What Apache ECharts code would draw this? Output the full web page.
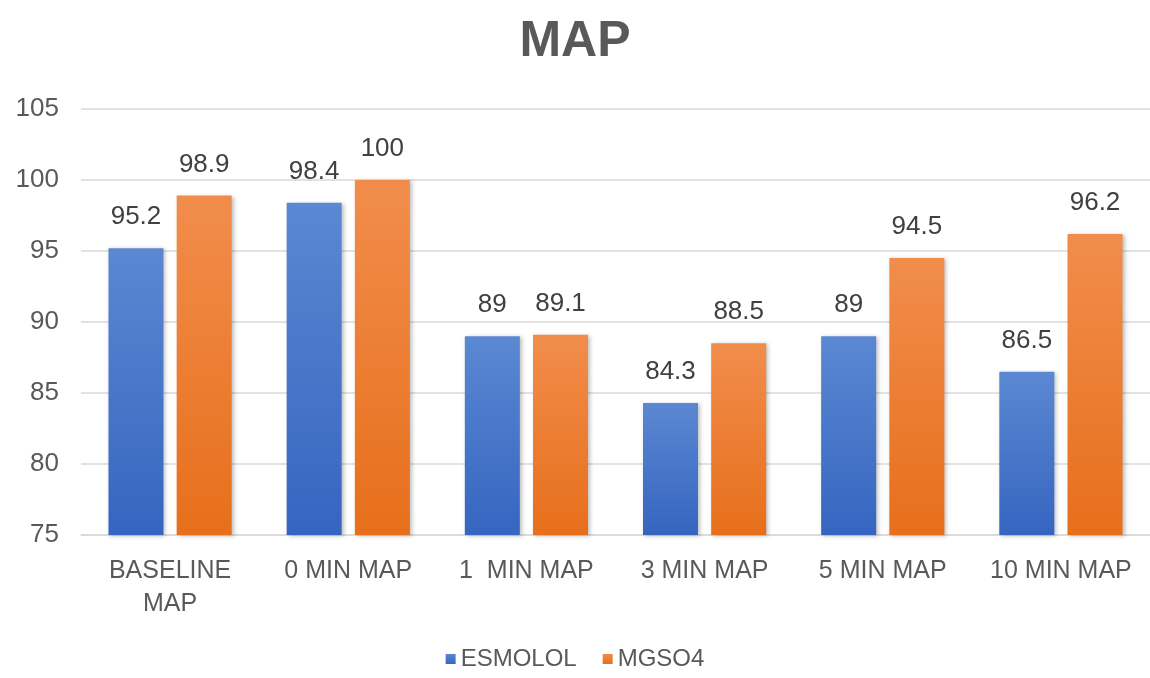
<!DOCTYPE html>
<html>
<head>
<meta charset="utf-8">
<script src="https://cdn.jsdelivr.net/npm/echarts@6/dist/echarts.min.js"></script>
<style>
  html, body { margin: 0; padding: 0; background: #fff; }
  #chart { width: 1150px; height: 678px; }
</style>
</head>
<body>
<div id="chart"></div>
<script>
const categories = ['BASELINE\nMAP', '0 MIN MAP', '1  MIN MAP', '3 MIN MAP', '5 MIN MAP', '10 MIN MAP'];
const esmolol = [95.2, 98.4, 89, 84.3, 89, 86.5];
const mgso4 = [98.9, 100, 89.1, 88.5, 94.5, 96.2];
const yTicks = [75, 80, 85, 90, 95, 100, 105];

const FONT = '"Liberation Sans", Arial, sans-serif';
const chart = echarts.init(document.getElementById('chart'));

function grad(top, bottom) {
    return new echarts.graphic.LinearGradient(0, 0, 0, 1, [
        { offset: 0, color: top },
        { offset: 1, color: bottom }
    ]);
}

const labelStyle = {
    show: true,
    position: 'top',
    distance: 18,
    fontFamily: FONT,
    fontSize: 26,
    color: '#404040'
};

chart.setOption({
    textStyle: { fontFamily: FONT },
    title: {
        text: 'MAP',
        left: 'center',
        top: 12,
        textStyle: { fontFamily: FONT, fontSize: 50, fontWeight: 'bold', color: '#595959' }
    },
    legend: {
        bottom: 2,
        left: 'center',
        icon: 'rect',
        itemWidth: 10,
        itemHeight: 10,
        itemGap: 26,
        textStyle: { fontFamily: FONT, fontSize: 24, color: '#595959' },
        data: ['ESMOLOL', 'MGSO4']
    },
    grid: { left: 81, top: 109, width: 1072, height: 426, containLabel: false },
    xAxis: {
        type: 'category',
        data: categories,
        axisLine: { lineStyle: { color: '#d9d9d9', width: 1.5 } },
        axisTick: { show: false },
        axisLabel: { fontFamily: FONT, fontSize: 25, color: '#595959', margin: 20, lineHeight: 33, interval: 0 }
    },
    yAxis: {
        type: 'value',
        min: yTicks[0],
        max: yTicks[yTicks.length - 1],
        interval: 5,
        axisLine: { show: false },
        axisTick: { show: false },
        axisLabel: { fontFamily: FONT, fontSize: 26, color: '#595959', margin: 22 },
        splitLine: { lineStyle: { color: '#d9d9d9', width: 1.5 } }
    },
    series: [
        {
            name: 'ESMOLOL',
            type: 'bar',
            data: esmolol,
            barWidth: 55,
            barGap: '24%',
            itemStyle: {
                color: grad('#5b88d2', '#3565c0'),
                shadowBlur: 4,
                shadowColor: 'rgba(0,0,0,0.25)',
                shadowOffsetX: 2,
                shadowOffsetY: 1
            },
            label: labelStyle
        },
        {
            name: 'MGSO4',
            type: 'bar',
            data: mgso4,
            barWidth: 55,
            itemStyle: {
                color: grad('#f18d4c', '#e76f1b'),
                shadowBlur: 4,
                shadowColor: 'rgba(0,0,0,0.25)',
                shadowOffsetX: 2,
                shadowOffsetY: 1
            },
            label: labelStyle
        }
    ]
});
</script>
</body>
</html>
